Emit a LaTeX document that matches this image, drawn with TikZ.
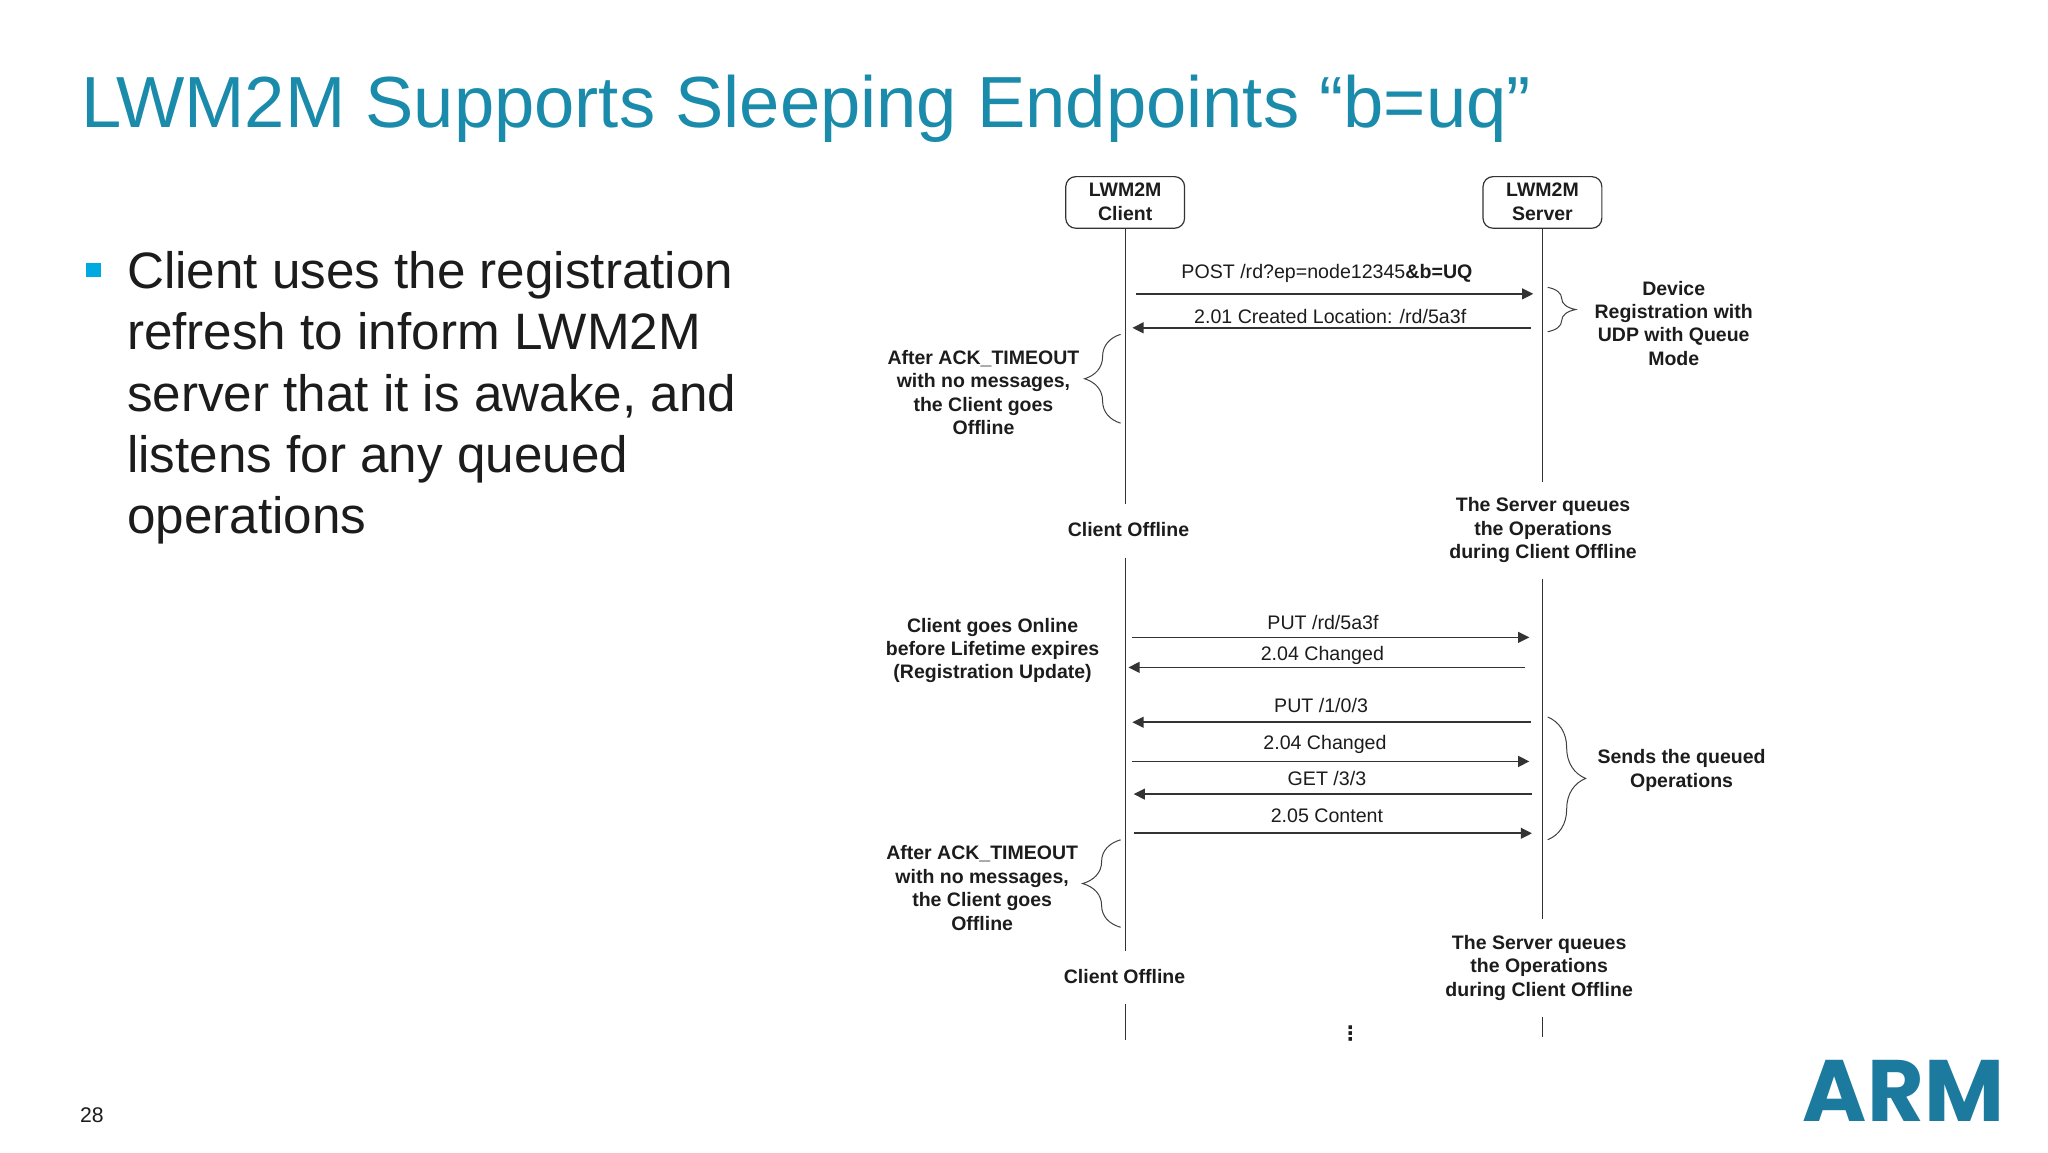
\documentclass[tikz,border=0pt]{standalone}
\usepackage{fontspec}
\setmainfont{Liberation Sans}
\newfontfamily\logofont{Poppins}
\newfontfamily\symbfont{DejaVu Sans}
\usetikzlibrary{arrows.meta,decorations.pathreplacing}
\definecolor{armblue}{HTML}{1A8BAA}
\definecolor{logoblue}{HTML}{1B7A9D}
\definecolor{bulletblue}{HTML}{00A9E0}
\definecolor{inktext}{HTML}{1C1C1C}
\tikzset{
  lifebox/.style={draw=black!80,line width=0.6pt,rounded corners=5pt,minimum width=59.4pt,minimum height=25.8pt,inner sep=0pt,align=center,font=\fontsize{9.75}{11.7}\selectfont\bfseries,text=inktext},
  lifeline/.style={draw=black!80,line width=0.6pt},
  msg/.style={draw=black!80,line width=0.8pt,-{Triangle[length=5.6pt,width=5.4pt]}},
  msgtext/.style={inner sep=0pt,font=\fontsize{9.8}{11.7}\selectfont,text=inktext},
  note/.style={inner sep=0pt,align=center,font=\fontsize{9.75}{11.7}\selectfont\bfseries,text=inktext},
  curly/.style={draw=black!75,line width=0.5pt,decorate,decoration={brace,amplitude=#1}}
}
\begin{document}
\begin{tikzpicture}[x=0.653pt,y=-0.653pt]
  \useasboundingbox (0,0) rectangle (1568.1,882.1);
  % slide text
  \node (title) [anchor=base west,inner sep=0pt,text=armblue,font=\fontsize{36.2}{44}\selectfont] at (62,98) {LWM2M Supports Sleeping Endpoints “b=uq”};
  \node (bullet) [fill=bulletblue,minimum size=7.2pt,inner sep=0pt] at (71.5,206.5) {};
  \node (body) [anchor=north west,inner sep=0pt,align=left,text=inktext,font=\fontsize{25.6}{30.7}\selectfont] at (97,192) {Client uses the registration\\refresh to inform LWM2M\\server that it is awake, and\\listens for any queued\\operations};
  \node (pagenum) [anchor=base west,inner sep=0pt,text=inktext,font=\fontsize{10.6}{12}\selectfont] at (61,859.5) {28};
  \node (logo) [anchor=base,inner sep=0pt,text=logoblue,font=\logofont\bfseries\fontsize{43.6}{50}\selectfont] at (1457.5,859) {ARM};
  % lifelines
  \node (client) [lifebox] at (861.5,155) {\raisebox{0.6pt}{LWM2M}\\\raisebox{0.6pt}{Client}};
  \node (server) [lifebox] at (1181,155) {\raisebox{0.6pt}{LWM2M}\\\raisebox{0.6pt}{Server}};
  \coordinate (clientA) at (862,386);
  \coordinate (clientB) at (862,427);
  \coordinate (clientC) at (862,728);
  \coordinate (clientD) at (862,769);
  \coordinate (clientE) at (862,796);
  \coordinate (serverA) at (1181,369);
  \coordinate (serverB) at (1181,443);
  \coordinate (serverC) at (1181,704);
  \coordinate (serverD) at (1181,779);
  \coordinate (serverE) at (1181,794);
  \draw[lifeline] (client.south -| clientA) -- (clientA);
  \draw[lifeline] (clientB) -- (clientC);
  \draw[lifeline] (clientD) -- (clientE);
  \draw[lifeline] (server) -- (serverA);
  \draw[lifeline] (serverB) -- (serverC);
  \draw[lifeline] (serverD) -- (serverE);
  % messages
  \foreach \msgname/\xa/\xb/\ya/\xt/\yt/\txt in {%
    post/870/1174/225/1016/209.5/{POST /rd?ep=node12345\textbf{\&b=UQ}},
    created/1172/867/251/1018.5/242/{2.01 Created Location: /rd/5a3f},
    putrd/867/1171/488/1013/477/{PUT /rd/5a3f},
    changedA/1168/864/511/1012.5/502/{2.04 Changed},
    putobj/1172/867/553/1011.5/540/{PUT /1/0/3},
    changedB/867/1171/583/1014.5/570/{2.04 Changed},
    getobj/1173/868/608/1016/596/{GET /3/3},
    content/868/1173/638/1016/624.5/{2.05 Content}}{
    \coordinate (\msgname A) at (\xa,\ya);
    \coordinate (\msgname B) at (\xb,\ya);
    \draw[msg] (\msgname A) -- (\msgname B);
    \node (\msgname) [msgtext] at (\xt,\yt) {\txt};
  }
  % notes
  \node (regnote) [note] at (1281.5,247.5) {Device\\Registration with\\UDP with Queue\\Mode};
  \node (ackA) [note] at (753,300.5) {After ACK\_TIMEOUT\\with no messages,\\the Client goes\\Offline};
  \node (offlineA) [note] at (864,405.5) {Client Offline};
  \node (queueA) [note] at (1181.5,406) {The Server queues\\the Operations\\during Client Offline};
  \node (online) [note] at (760,498) {Client goes Online\\before Lifetime expires\\(Registration Update)};
  \node (sends) [note] at (1287.5,590) {Sends the queued\\Operations};
  \node (ackB) [note] at (752,680) {After ACK\_TIMEOUT\\with no messages,\\the Client goes\\Offline};
  \node (offlineB) [note] at (861,748) {Client Offline};
  \node (queueB) [note] at (1178.5,741) {The Server queues\\the Operations\\during Client Offline};
  \node (dots) [inner sep=0pt,font=\symbfont\bfseries\fontsize{10}{12}\selectfont,text=inktext] at (1034,791.5) {⋮};
  % braces
  \coordinate (regtop) at (1185,220);
  \coordinate (regbot) at (1185,254);
  \coordinate (sendtop) at (1185,549);
  \coordinate (sendbot) at (1185,643);
  \coordinate (acktopA) at (858,256);
  \coordinate (ackbotA) at (858,324);
  \coordinate (acktopB) at (858,643);
  \coordinate (ackbotB) at (858,710);
  \draw[curly=14pt] (regtop) -- (regbot);
  \draw[curly=19pt] (sendtop) -- (sendbot);
  \draw[curly=18pt] (ackbotA) -- (acktopA);
  \draw[curly=19pt] (ackbotB) -- (acktopB);
\end{tikzpicture}
\end{document}
